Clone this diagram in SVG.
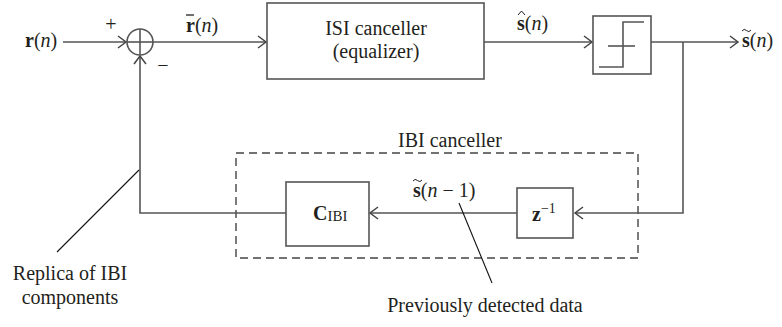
<svg xmlns="http://www.w3.org/2000/svg" width="782" height="327" viewBox="0 0 782 327">
<defs>
<marker id="arr" markerUnits="userSpaceOnUse" markerWidth="12" markerHeight="14" refX="9" refY="7" orient="auto">
<path d="M1,1 L9,7 L1,13" fill="none" stroke="#444" stroke-width="1.5"/>
</marker>
<style>
.t{font-family:"Liberation Serif","Times New Roman",serif;font-size:20px;fill:#231f20}
.b{font-weight:bold}
.i{font-style:italic}
.box{fill:#fff;stroke:#555;stroke-width:1.6}
.ln{fill:none;stroke:#555;stroke-width:1.6}
.ld{fill:none;stroke:#111;stroke-width:1.1}
</style>
</defs>
<rect width="782" height="327" fill="#fff"/>
<g id="ibi-group">
<rect x="236" y="153" width="402" height="105" fill="none" stroke="#444" stroke-width="1.4" stroke-dasharray="8,5"/>
<text class="t" x="450" y="147" text-anchor="middle">IBI canceller</text>
</g>
<g id="connectors">
<line class="ln" x1="63" y1="42" x2="126" y2="42" marker-end="url(#arr)"/>
<line class="ln" x1="153" y1="42" x2="266" y2="42" marker-end="url(#arr)"/>
<line class="ln" x1="484" y1="42" x2="592" y2="42" marker-end="url(#arr)"/>
<line class="ln" x1="651" y1="42" x2="738" y2="42" marker-end="url(#arr)"/>
<polyline class="ln" points="683,42 683,213 575,213" marker-end="url(#arr)"/>
<line class="ln" x1="517" y1="213" x2="370" y2="213" marker-end="url(#arr)"/>
<polyline class="ln" points="286,213 140,213 140,56" marker-end="url(#arr)"/>
<line class="ld" x1="57" y1="252" x2="139" y2="170"/>
<line class="ld" x1="459" y1="203" x2="492" y2="283"/>
</g>
<g id="sum">
<circle cx="140" cy="42" r="13" class="box"/>
<line class="ln" x1="127" y1="42" x2="153" y2="42"/>
<line class="ln" x1="140" y1="29" x2="140" y2="55"/>
<text class="t" x="111" y="31" text-anchor="middle">+</text>
<text class="t" x="163" y="72" text-anchor="middle">−</text>
</g>
<g id="input">
<text class="t" x="25" y="47"><tspan class="b">r</tspan>(<tspan class="i">n</tspan>)</text>
</g>
<g id="rbar">
<text class="t" x="186" y="32"><tspan class="b">r</tspan>(<tspan class="i">n</tspan>)</text>
<line x1="186" y1="15" x2="194" y2="15" stroke="#231f20" stroke-width="1.3"/>
</g>
<g id="isi">
<rect x="267" y="3" width="217" height="76" class="box"/>
<text class="t" x="376" y="35" text-anchor="middle">ISI canceller</text>
<text class="t" x="376" y="58" text-anchor="middle">(equalizer)</text>
</g>
<g id="shat">
<text class="t" x="517" y="30"><tspan class="b">s</tspan>(<tspan class="i">n</tspan>)</text>
<path d="M518,15 L521.5,11 L525,15" fill="none" stroke="#231f20" stroke-width="1"/>
</g>
<g id="decision">
<rect x="593" y="16" width="58" height="58" class="box"/>
<polyline class="ln" points="599,67 623,67 623,22 644,22"/>
<line class="ln" x1="608" y1="46" x2="635" y2="46"/>
</g>
<g id="output">
<text class="t" x="742" y="47"><tspan class="b">s</tspan>(<tspan class="i">n</tspan>)</text>
<path d="M742,31 Q744,28 746.5,30.5 T751,30" fill="none" stroke="#231f20" stroke-width="1"/>
</g>
<g id="delay">
<rect x="517" y="188" width="56" height="50" class="box"/>
<text class="t" x="532" y="221"><tspan class="b">z</tspan><tspan font-size="14" dy="-8">−1</tspan></text>
</g>
<g id="cibi">
<rect x="286" y="182" width="83" height="64" class="box"/>
<text class="t" x="313" y="220"><tspan class="b">C</tspan><tspan font-size="15" dy="1">IBI</tspan></text>
</g>
<g id="sn1">
<text class="t" x="413" y="197"><tspan class="b">s</tspan>(<tspan class="i">n</tspan> − 1)</text>
<path d="M413,181 Q415,178 417.5,180.5 T422,180" fill="none" stroke="#231f20" stroke-width="1"/>
</g>
<g id="labels">
<text class="t" x="70" y="280" text-anchor="middle">Replica of IBI</text>
<text class="t" x="70" y="304" text-anchor="middle">components</text>
<text class="t" x="485" y="312" text-anchor="middle">Previously detected data</text>
</g>
</svg>
